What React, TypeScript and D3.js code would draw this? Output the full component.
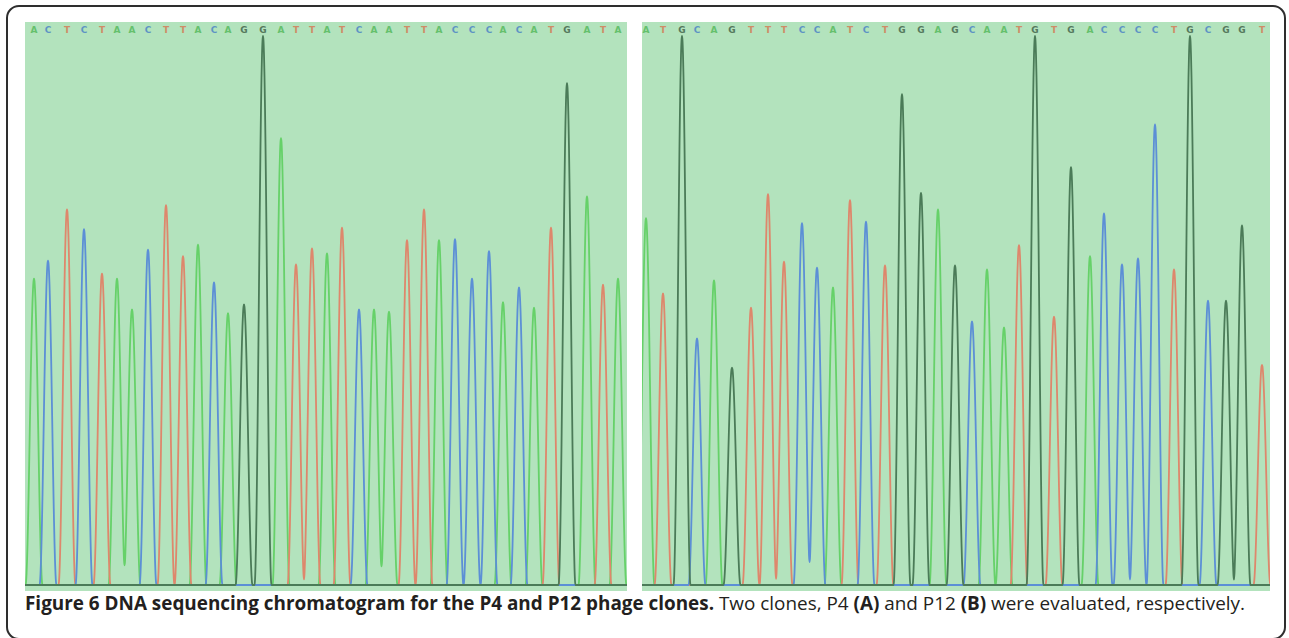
import { useMemo } from 'react';
import * as d3 from 'd3';

// Called bases, read left to right
const LEFT_SEQ = 'ACTCTAACTTACAGGATTATCAATTACCCACATGATA'.split('');
const RIGHT_SEQ = 'ATGCAGTTTCCATCTGGAGCAATGTGACCCCTGCGGT'.split('');

// Peak positions (scan units from panel start)
const LEFT_POS = [9, 23, 42, 59, 77, 92, 107, 123, 141, 158, 173, 189, 203, 219, 238, 256, 271, 287, 302, 317, 334, 349, 364, 382, 399, 414, 430, 447, 464, 478, 494, 509, 526, 542, 562, 578, 593];
const RIGHT_POS = [4, 21, 40, 55, 72, 90, 109, 126, 142, 160, 175, 191, 208, 224, 243, 260, 279, 296, 313, 330, 345, 362, 377, 393, 412, 429, 448, 462, 480, 496, 513, 532, 548, 566, 584, 600, 620];

// Peak intensities (relative signal, 0-1000)
const LEFT_HEIGHT = [558, 591, 684, 648, 567, 558, 502, 611, 692, 599, 620, 551, 495, 511, 1000, 814, 584, 613, 604, 651, 502, 502, 498, 628, 684, 628, 630, 558, 608, 515, 542, 505, 651, 914, 708, 547, 558];
const RIGHT_HEIGHT = [668, 531, 1000, 449, 555, 396, 505, 712, 589, 659, 578, 542, 701, 662, 582, 894, 714, 684, 582, 480, 575, 469, 619, 1000, 489, 761, 599, 677, 584, 595, 839, 575, 1000, 518, 518, 655, 401];

const LEFT_SCANS = 602;
const RIGHT_SCANS = 628;

const TRACE_ORDER = ['A', 'T', 'C', 'G'];
const TRACE_COLOR: Record<string, string> = { A: '#66d169', C: '#5c8fd6', G: '#4b7b58', T: '#de876c' };
const LETTER_COLOR: Record<string, string> = { A: '#58bb60', C: '#4f86c6', G: '#44664c', T: '#d47d58' };

const W = 1289;
const H = 638;
const PANEL_TOP = 22;
const PANEL_BOTTOM = 591;
const BASE_Y = 585;
const PEAK_TOP = 36;
const HALF_WIDTH = 8.5; // peak half-width at the base, in scans
const BG = '#b3e3bd';

// smooth bell that reaches zero at +-HALF_WIDTH
const kernel = (d: number) => (Math.abs(d) >= HALF_WIDTH ? 0 : Math.cos((Math.PI * d) / (2 * HALF_WIDTH)) ** 2);

function Panel({ id, x0, width, seq, pos, heights, scans }: any) {
  const x = d3.scaleLinear().domain([0, scans]).range([x0, x0 + width]);
  const y = d3.scaleLinear().domain([0, 1000]).range([BASE_Y, PEAK_TOP]);

  const traces = useMemo(() => {
    const grid = d3.range(-2, scans + 2.01, 0.5);
    return TRACE_ORDER.map((b) => {
      const peaks = seq.map((s: string, i: number) => (s === b ? i : -1)).filter((i: number) => i >= 0);
      const pts: [number, number][] = grid.map((s) => [s, d3.sum(peaks, (i: number) => heights[i] * kernel(s - pos[i]))]);
      return { base: b, pts };
    });
  }, [seq, pos, heights, scans]);

  const line = d3
    .line<[number, number]>()
    .x((d) => x(d[0]))
    .y((d) => y(d[1]))
    .curve(d3.curveMonotoneX);

  return (
    <g>
      <defs>
        <clipPath id={id}>
          <rect x={x0} y={PANEL_TOP} width={width} height={PANEL_BOTTOM - PANEL_TOP} />
        </clipPath>
      </defs>
      <rect x={x0} y={PANEL_TOP} width={width} height={PANEL_BOTTOM - PANEL_TOP} fill={BG} />
      <g clipPath={`url(#${id})`}>
        {traces.map((t) => (
          <path key={t.base} d={line(t.pts) || ''} fill="none" stroke={TRACE_COLOR[t.base]} strokeWidth={1.8} strokeLinejoin="round" />
        ))}
      </g>
      {seq.map((s: string, i: number) => (
        <text
          key={i}
          x={x(pos[i])}
          y={33}
          textAnchor="middle"
          fontSize={9}
          fontWeight="bold"
          fontFamily="DejaVu Sans, sans-serif"
          fill={LETTER_COLOR[s]}
          opacity={0.85}
        >
          {s}
        </text>
      ))}
    </g>
  );
}

export default function App() {
  return (
    <div style={{ position: 'absolute', left: 0, top: 0 }}>
      <svg width={W} height={H} style={{ display: 'block', background: '#fff' }}>
        <rect x={7} y={6} width={1278} height={633} rx={12} fill="none" stroke="#2e2e2e" strokeWidth={2} />
        <Panel id="clipA" x0={25} width={602} seq={LEFT_SEQ} pos={LEFT_POS} heights={LEFT_HEIGHT} scans={LEFT_SCANS} />
        <Panel id="clipB" x0={642} width={628} seq={RIGHT_SEQ} pos={RIGHT_POS} heights={RIGHT_HEIGHT} scans={RIGHT_SCANS} />
        <text x={25} y={610} fontFamily="'Open Sans', sans-serif" fontSize={18.9} fill="#231f20">
          <tspan fontWeight="bold">Figure 6 DNA sequencing chromatogram for the P4 and P12 phage clones.</tspan>
          <tspan> Two clones, P4 </tspan>
          <tspan fontWeight="bold">(A)</tspan>
          <tspan> and P12 </tspan>
          <tspan fontWeight="bold">(B)</tspan>
          <tspan> were evaluated, respectively.</tspan>
        </text>
      </svg>
    </div>
  );
}
